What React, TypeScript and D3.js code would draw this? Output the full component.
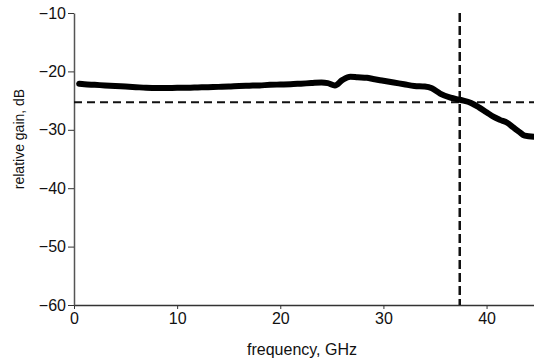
import * as d3 from 'd3';
import { useEffect, useRef } from 'react';

// frequency (GHz) and relative gain (dB)
const freq = [0.5, 1, 2, 3, 4, 5, 6, 7, 8, 9, 10, 11, 12, 13, 14, 15, 16, 17, 18, 19, 20, 21, 22, 23, 24, 24.6, 25.3, 26, 26.8, 27.5, 28.4, 29, 30, 31, 32, 33, 34, 34.7, 35.5, 36.5, 37.5, 38.5, 39.3, 40, 40.7, 41.3, 42, 42.6, 43.2, 43.7, 44.6];
const gain = [-22.1, -22.2, -22.3, -22.4, -22.5, -22.6, -22.7, -22.8, -22.85, -22.85, -22.8, -22.8, -22.75, -22.7, -22.65, -22.6, -22.5, -22.45, -22.4, -22.3, -22.25, -22.2, -22.1, -22.0, -21.9, -22.0, -22.4, -21.5, -20.9, -21.0, -21.1, -21.3, -21.6, -21.9, -22.2, -22.5, -22.6, -22.9, -23.8, -24.5, -24.9, -25.4, -26.2, -27.0, -27.8, -28.3, -28.8, -29.6, -30.4, -31.0, -31.2];

const xTicks = [0, 10, 20, 30, 40];
const yTicks = [-10, -20, -30, -40, -50, -60];

// -3 dB reference markers
const refGain = -25.3;
const refFreq = 37.4;

const App = () => {
    const ref = useRef(null);

    useEffect(() => {
        const svg = d3.select(ref.current);
        svg.selectAll('*').remove();

        const x = d3.scaleLinear().domain([0, 44.6]).range([74, 534]);
        const y = d3.scaleLinear().domain([-60, -10]).range([305, 13]);

        // Axes
        const xAxis = svg.append('g')
            .attr('transform', `translate(0, ${y(-60)})`)
            .call(d3.axisBottom(x).tickValues(xTicks).tickSize(4).tickSizeOuter(0).tickPadding(4));
        xAxis.select('.domain').attr('stroke', '#333').attr('stroke-width', 1.5);
        xAxis.selectAll('line').attr('stroke', '#333');
        xAxis.selectAll('text')
            .style('font-family', 'Liberation Sans, Arial, sans-serif')
            .style('font-size', '16px')
            .attr('fill', '#111');

        const yAxis = svg.append('g')
            .attr('transform', `translate(${x(0)}, 0)`)
            .call(d3.axisLeft(y).tickValues(yTicks).tickSize(6).tickSizeOuter(0).tickPadding(2)
                .tickFormat((d) => `\u2212${Math.abs(d)}`));
        yAxis.select('.domain').attr('stroke', '#555').attr('stroke-width', 1.5);
        yAxis.selectAll('line').attr('stroke', '#333');
        yAxis.selectAll('text')
            .style('font-family', 'Liberation Sans, Arial, sans-serif')
            .style('font-size', '16px')
            .attr('fill', '#111');

        // Dashed reference lines
        svg.append('line')
            .attr('x1', x(0))
            .attr('x2', 534)
            .attr('y1', y(refGain))
            .attr('y2', y(refGain))
            .attr('stroke', '#111')
            .attr('stroke-width', 2)
            .attr('stroke-dasharray', '8,5');

        svg.append('line')
            .attr('x1', x(refFreq))
            .attr('x2', x(refFreq))
            .attr('y1', y(-10))
            .attr('y2', y(-60))
            .attr('stroke', '#111')
            .attr('stroke-width', 2.5)
            .attr('stroke-dasharray', '9,4');

        // Gain trace
        const line = d3.line()
            .x((d) => x(d[0]))
            .y((d) => y(d[1]))
            .curve(d3.curveMonotoneX);

        svg.append('path')
            .datum(freq.map((f, i) => [f, gain[i]]))
            .attr('d', line)
            .attr('fill', 'none')
            .attr('stroke', '#000')
            .attr('stroke-width', 6)
            .attr('stroke-linecap', 'round')
            .attr('stroke-linejoin', 'round');

        // Axis labels
        svg.append('text')
            .attr('x', 302)
            .attr('y', 355)
            .attr('text-anchor', 'middle')
            .style('font-family', 'Liberation Sans, Arial, sans-serif')
            .style('font-size', '16px')
            .attr('fill', '#111')
            .text('frequency, GHz');

        svg.append('text')
            .attr('transform', 'rotate(-90)')
            .attr('x', -139)
            .attr('y', 24)
            .attr('text-anchor', 'middle')
            .style('font-family', 'Liberation Sans, Arial, sans-serif')
            .style('font-size', '14px')
            .attr('fill', '#111')
            .text('relative gain, dB');
    }, []);

    return (
        <svg
            ref={ref}
            width={534}
            height={362}
            style={{ position: 'absolute', left: 0, top: 0, background: '#fff' }}
        />
    );
};

export default App;
